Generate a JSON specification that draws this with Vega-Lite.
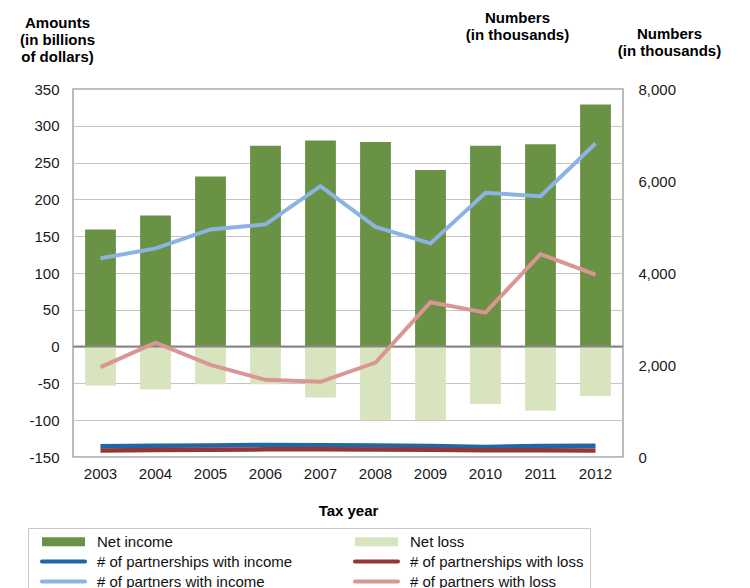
{
  "$schema": "https://vega.github.io/schema/vega-lite/v6.json",
  "width": 550,
  "height": 368,
  "autosize": {"type": "none"},
  "padding": {"left": 73, "top": 89, "right": 127, "bottom": 131},
  "background": "white",
  "config": {
    "font": "Liberation Sans",
    "view": {"stroke": "#a6a6a6", "strokeWidth": 1.5},
    "axis": {
      "labelFont": "Liberation Sans",
      "labelFontSize": 15,
      "labelColor": "#1a1a1a",
      "labelOverlap": false,
      "titleFont": "Liberation Sans",
      "titleFontSize": 15,
      "titleFontWeight": "bold",
      "titleColor": "#000000"
    }
  },
  "datasets": {
    "money": [
      {"year": "2003", "series": "Net income", "amount": 159},
      {"year": "2004", "series": "Net income", "amount": 178},
      {"year": "2005", "series": "Net income", "amount": 231},
      {"year": "2006", "series": "Net income", "amount": 273},
      {"year": "2007", "series": "Net income", "amount": 280},
      {"year": "2008", "series": "Net income", "amount": 278},
      {"year": "2009", "series": "Net income", "amount": 240},
      {"year": "2010", "series": "Net income", "amount": 273},
      {"year": "2011", "series": "Net income", "amount": 275},
      {"year": "2012", "series": "Net income", "amount": 329},
      {"year": "2003", "series": "Net loss", "amount": -53},
      {"year": "2004", "series": "Net loss", "amount": -58},
      {"year": "2005", "series": "Net loss", "amount": -51},
      {"year": "2006", "series": "Net loss", "amount": -51},
      {"year": "2007", "series": "Net loss", "amount": -69},
      {"year": "2008", "series": "Net loss", "amount": -100},
      {"year": "2009", "series": "Net loss", "amount": -100},
      {"year": "2010", "series": "Net loss", "amount": -78},
      {"year": "2011", "series": "Net loss", "amount": -87},
      {"year": "2012", "series": "Net loss", "amount": -67}
    ],
    "partners": [
      {"year": "2003", "series": "# of partners with income", "count": 4319},
      {"year": "2004", "series": "# of partners with income", "count": 4536},
      {"year": "2005", "series": "# of partners with income", "count": 4948},
      {"year": "2006", "series": "# of partners with income", "count": 5056},
      {"year": "2007", "series": "# of partners with income", "count": 5888},
      {"year": "2008", "series": "# of partners with income", "count": 5004},
      {"year": "2009", "series": "# of partners with income", "count": 4644},
      {"year": "2010", "series": "# of partners with income", "count": 5742},
      {"year": "2011", "series": "# of partners with income", "count": 5671},
      {"year": "2012", "series": "# of partners with income", "count": 6814},
      {"year": "2003", "series": "# of partners with loss", "count": 1953},
      {"year": "2004", "series": "# of partners with loss", "count": 2487},
      {"year": "2005", "series": "# of partners with loss", "count": 2003},
      {"year": "2006", "series": "# of partners with loss", "count": 1677},
      {"year": "2007", "series": "# of partners with loss", "count": 1634},
      {"year": "2008", "series": "# of partners with loss", "count": 2053},
      {"year": "2009", "series": "# of partners with loss", "count": 3364},
      {"year": "2010", "series": "# of partners with loss", "count": 3138},
      {"year": "2011", "series": "# of partners with loss", "count": 4412},
      {"year": "2012", "series": "# of partners with loss", "count": 3963}
    ],
    "partnerships": [
      {"year": "2003", "series": "# of partnerships with income", "count": 235},
      {"year": "2004", "series": "# of partnerships with income", "count": 245},
      {"year": "2005", "series": "# of partnerships with income", "count": 250},
      {"year": "2006", "series": "# of partnerships with income", "count": 262},
      {"year": "2007", "series": "# of partnerships with income", "count": 255},
      {"year": "2008", "series": "# of partnerships with income", "count": 248},
      {"year": "2009", "series": "# of partnerships with income", "count": 240},
      {"year": "2010", "series": "# of partnerships with income", "count": 218},
      {"year": "2011", "series": "# of partnerships with income", "count": 240},
      {"year": "2012", "series": "# of partnerships with income", "count": 245},
      {"year": "2003", "series": "# of partnerships with loss", "count": 140},
      {"year": "2004", "series": "# of partnerships with loss", "count": 150},
      {"year": "2005", "series": "# of partnerships with loss", "count": 155},
      {"year": "2006", "series": "# of partnerships with loss", "count": 168},
      {"year": "2007", "series": "# of partnerships with loss", "count": 168},
      {"year": "2008", "series": "# of partnerships with loss", "count": 165},
      {"year": "2009", "series": "# of partnerships with loss", "count": 158},
      {"year": "2010", "series": "# of partnerships with loss", "count": 145},
      {"year": "2011", "series": "# of partnerships with loss", "count": 148},
      {"year": "2012", "series": "# of partnerships with loss", "count": 142}
    ]
  },
  "layer": [
    {
      "layer": [
        {
          "data": {"name": "money"},
          "mark": {"type": "bar"},
          "encoding": {
            "x": {
              "field": "year",
              "type": "ordinal",
              "scale": {"paddingInner": 0.44, "paddingOuter": 0.22},
              "axis": {
                "labelAngle": 0,
                "ticks": false,
                "domain": false,
                "labelPadding": 9,
                "title": "Tax year",
                "titlePadding": 22
              }
            },
            "y": {
              "field": "amount",
              "type": "quantitative",
              "stack": null,
              "scale": {"domain": [-150, 350], "nice": false, "zero": false},
              "axis": {
                "orient": "left",
                "values": [-150, -100, -50, 0, 50, 100, 150, 200, 250, 300, 350],
                "tickCount": 11,
                "labelExpr": "'' + datum.value",
                "ticks": false,
                "domain": false,
                "labelPadding": 14,
                "grid": true,
                "gridColor": "#c4c4c4",
                "gridWidth": 1.2,
                "title": ["Amounts", "(in billions", "of dollars)"],
                "titleAngle": 0,
                "titleAlign": "center",
                "titleBaseline": "top",
                "titleX": -16,
                "titleY": -74,
                "titleLineHeight": 17
              }
            },
            "color": {
              "field": "series",
              "type": "nominal",
              "scale": {
                "domain": ["Net income", "# of partnerships with income", "# of partners with income", "Net loss", "# of partnerships with loss", "# of partners with loss"],
                "range": ["#6a9244", "#1f67a8", "#8db3e2", "#d8e4bd", "#963634", "#da9694"]
              },
              "legend": {
                "orient": "none",
                "legendX": -45,
                "legendY": 439,
                "title": null,
                "columns": 2,
                "columnPadding": 54,
                "gridAlign": "all",
                "rowPadding": 3,
                "padding": 6,
                "symbolOffset": 22,
                "strokeColor": "#c8c8c8",
                "fillColor": "white",
                "labelFont": "Liberation Sans",
                "labelFontSize": 15,
                "labelColor": "#111111",
                "labelLimit": 320,
                "labelOffset": 26,
                "symbolSize": 1849,
                "encode": {
                  "symbols": {
                    "update": {
                      "shape": {"signal": "indexof(['Net income','Net loss'], datum.value) >= 0 ? 'M-1,-0.21H1V0.21H-1Z' : 'stroke'"},
                      "strokeWidth": {"signal": "indexof(['Net income','Net loss'], datum.value) >= 0 ? 0 : 4"},
                      "fill": {"signal": "scale('color', datum.value)"},
                      "stroke": {"signal": "scale('color', datum.value)"},
                      "strokeCap": {"value": "round"},
                      "opacity": {"value": 1},
                      "fillOpacity": {"value": 1},
                      "strokeOpacity": {"value": 1}
                    }
                  }
                }
              }
            }
          }
        },
        {
          "data": {"values": [{}]},
          "mark": {"type": "rule", "color": "#878787", "strokeWidth": 2},
          "encoding": {"y": {"datum": 0}}
        }
      ]
    },
    {
      "data": {"name": "partners"},
      "mark": {"type": "line", "strokeWidth": 4},
      "encoding": {
        "x": {"field": "year", "type": "ordinal"},
        "y": {
          "field": "count",
          "type": "quantitative",
          "scale": {"domain": [0, 8000], "nice": false},
          "axis": {
            "orient": "right",
            "values": [0, 2000, 4000, 6000, 8000],
            "format": ",.0f",
            "ticks": false,
            "domain": false,
            "grid": false,
            "labelPadding": 15,
            "title": ["Numbers", "(in thousands)"],
            "titleAngle": 0,
            "titleAlign": "center",
            "titleBaseline": "top",
            "titleX": 46,
            "titleY": -63,
            "titleLineHeight": 17
          }
        },
        "color": {"field": "series", "type": "nominal"}
      }
    },
    {
      "data": {"name": "partnerships"},
      "mark": {"type": "line", "strokeWidth": 4.5},
      "encoding": {
        "x": {"field": "year", "type": "ordinal"},
        "y": {
          "field": "count",
          "type": "quantitative",
          "scale": {"domain": [0, 8000], "nice": false},
          "axis": {
            "orient": "right",
            "labels": false,
            "ticks": false,
            "domain": false,
            "grid": false,
            "title": ["Numbers", "(in thousands)"],
            "titleAngle": 0,
            "titleAlign": "center",
            "titleBaseline": "top",
            "titleX": -106,
            "titleY": -79,
            "titleLineHeight": 17
          }
        },
        "color": {"field": "series", "type": "nominal"}
      }
    }
  ],
  "resolve": {"scale": {"y": "independent"}, "axis": {"y": "independent"}}
}
